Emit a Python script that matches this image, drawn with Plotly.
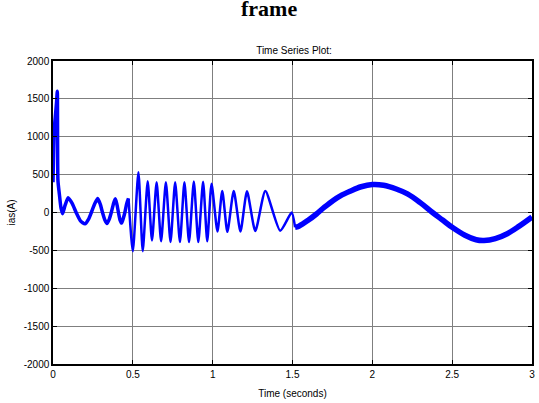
import plotly.graph_objects as go

# Segment A: start-up spike and low-frequency oscillation (0 - 0.47 s)
t_a = [0.0, 0.008, 0.016, 0.022, 0.027, 0.031, 0.04, 0.05, 0.06, 0.075, 0.095, 0.12, 0.145,
       0.172, 0.2, 0.222, 0.24, 0.262, 0.28, 0.296, 0.31, 0.325, 0.338, 0.352, 0.365,
       0.378, 0.39, 0.40, 0.41, 0.42, 0.43, 0.44, 0.45, 0.462, 0.473]
i_a = [400, 1100, 1300, 1450, 1600, 420, 240, 60, -15, 90, 195, 120, 0,
       -110, -150, -90, 0, 120, 185, 110, 0, -100, -145, -90, 0,
       110, 180, 110, 0, -100, -140, -80, 0, 120, 185]

# Segment B: high-frequency oscillation (0.47 - 1.52 s)
t_b = [0.473, 0.5, 0.535, 0.562, 0.593, 0.62, 0.649, 0.677, 0.707, 0.736, 0.765, 0.795,
       0.823, 0.852, 0.882, 0.91, 0.94, 0.966, 0.993, 1.03, 1.06, 1.092, 1.132, 1.174,
       1.215, 1.267, 1.33, 1.423, 1.495, 1.516]
i_b = [185, -510, 530, -510, 413, -370, 400, -380, 400, -390, 400, -390,
       400, -390, 410, -390, 405, -380, 380, -250, 285, -255, 285, -250,
       280, -245, 285, -240, 0, -195]

# Segment C: slow sinusoid (1.52 - 3 s)
t_c = [1.516, 1.54, 1.6, 1.65, 1.7, 1.755, 1.8, 1.86, 1.93, 2.0, 2.07, 2.15, 2.22,
       2.3, 2.377, 2.44, 2.5, 2.58, 2.65, 2.7, 2.77, 2.845, 2.92, 3.0]
i_c = [-195, -180, -100, -20, 70, 160, 220, 280, 340, 370, 360, 310, 245,
       130, 0, -100, -195, -300, -360, -370, -345, -280, -180, -60]

x_ticks = [0, 0.5, 1, 1.5, 2, 2.5, 3]
x_tick_labels = ["0", "0.5", "1", "1.5", "2", "2.5", "3"]
y_ticks = [-2000, -1500, -1000, -500, 0, 500, 1000, 1500, 2000]
y_tick_labels = ["-2000", "-1500", "-1000", "-500", "0", "500", "1000", "1500", "2000"]

BLUE = "#0000FF"
FONT = "Liberation Sans, Arial, sans-serif"

fig = go.Figure()
fig.add_trace(go.Scatter(x=t_a, y=i_a, mode="lines",
                         line=dict(color=BLUE, width=3.5, shape="spline", smoothing=0.6)))
fig.add_trace(go.Scatter(x=t_b, y=i_b, mode="lines",
                         line=dict(color=BLUE, width=2.5, shape="spline", smoothing=0.6)))
fig.add_trace(go.Scatter(x=t_c, y=i_c, mode="lines",
                         line=dict(color=BLUE, width=5.5, shape="spline", smoothing=1.0)))

axis_common = dict(
    showgrid=True, gridcolor="#7f7f7f", gridwidth=1,
    showline=True, linecolor="black", linewidth=1.5, mirror="ticks",
    ticks="inside", ticklen=4, tickcolor="black",
    zeroline=False,
    tickfont=dict(family=FONT, size=10, color="black"),
)

fig.update_xaxes(range=[0, 3], tickvals=x_ticks, ticktext=x_tick_labels,
                 title=dict(text="Time (seconds)", font=dict(family=FONT, size=10, color="black"),
                            standoff=11),
                 **axis_common)
fig.update_yaxes(range=[-2000, 2000], tickvals=y_ticks, ticktext=y_tick_labels,
                 title=dict(text="ias(A)", font=dict(family=FONT, size=10, color="black"),
                            standoff=6),
                 **axis_common)

fig.update_layout(
    width=539, height=403,
    margin=dict(l=53, r=4, t=61, b=39),
    paper_bgcolor="white", plot_bgcolor="white",
    showlegend=False,
    title=dict(text="Time Series Plot:", x=0.5455, xanchor="center", y=1 - 50 / 403,
               yanchor="middle", font=dict(family=FONT, size=10, color="black")),
    annotations=[dict(text="<b>frame</b>", xref="paper", yref="paper", x=0.45, y=1.126,
                      xanchor="center", yanchor="bottom", showarrow=False,
                      font=dict(family="Liberation Serif, Times New Roman, serif", size=22,
                                color="black"))],
)

fig.write_html("out.html")
